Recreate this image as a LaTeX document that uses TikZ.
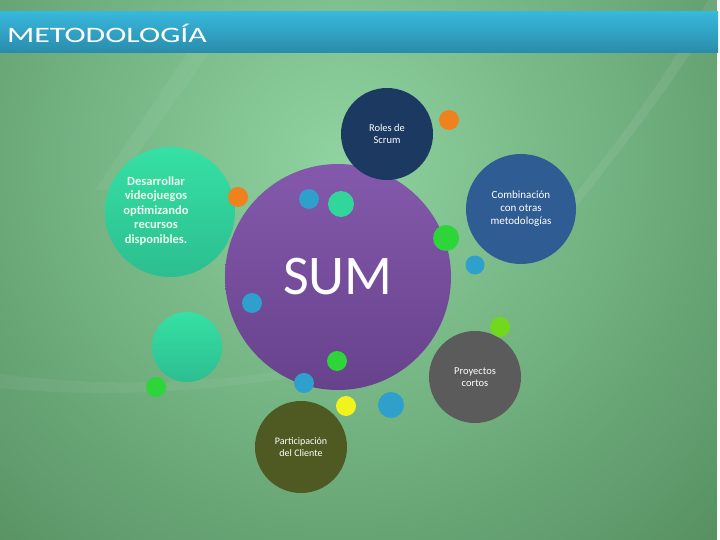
\documentclass[tikz,border=0pt]{standalone}
\usepackage{fontspec}
\setmainfont{Carlito}
\usetikzlibrary{positioning}
\definecolor{bgdark}{HTML}{3F7548}
\definecolor{bgmid}{HTML}{5E9E6C}
\definecolor{bglight}{HTML}{8FD3A0}
\definecolor{barTop}{HTML}{37B8DC}
\definecolor{barBot}{HTML}{2A8BAB}
\definecolor{sumTop}{HTML}{8459AC}
\definecolor{sumBot}{HTML}{67428C}
\definecolor{rolesBlue}{HTML}{1B3961}
\definecolor{combiBlue}{HTML}{2F5C92}
\definecolor{tealTop}{HTML}{36E0A4}
\definecolor{tealBot}{HTML}{2CBE90}
\definecolor{proyGray}{HTML}{5B5B5B}
\definecolor{partOlive}{HTML}{4E5A22}
\definecolor{dotOrange}{HTML}{F0821E}
\definecolor{dotBlue}{HTML}{2F9FCC}
\definecolor{dotGreen}{HTML}{2DD43A}
\definecolor{dotLime}{HTML}{72D81E}
\definecolor{dotYellow}{HTML}{F2F21C}
\definecolor{dotTeal}{HTML}{33D69A}
\tikzset{
  bubble/.style={circle, inner sep=0pt, minimum size=#1, text=white, align=center},
  smalldot/.style={circle, inner sep=0pt, minimum size=#1},
  bubtext/.style={font=\fontsize{10.5}{12.5}\selectfont}
}

\begin{document}
\begin{tikzpicture}[x=1pt, y=-1pt]
\useasboundingbox (0,0) rectangle (720,540);

% fondo
\begin{scope}
\clip (0,0) rectangle (717,540);
\fill[bgdark] (0,0) rectangle (720,540);
\shade[inner color=bglight, outer color=bgdark] (340,160) circle (760);
\fill[white, opacity=0.07] (708,0) .. controls (660,90) and (610,150) .. (555,220)
  -- (578,205) .. controls (628,140) and (678,80) .. (722,0) -- cycle;
\fill[white, opacity=0.05] (210,52) -- (188,52) -- (95,190) -- (112,190) -- cycle;
\fill[white, opacity=0.05] (0,374) .. controls (120,390) and (230,380) .. (300,368)
  -- (300,376) .. controls (230,388) and (120,400) .. (0,388) -- cycle;
\end{scope}
\fill[white] (717,0) rectangle (720,540);

% barra del titulo
\shade[top color=barTop, bottom color=barBot] (0,12) rectangle (718,53);
\node[anchor=west, text=white, xscale=1.45, font=\fontsize{22}{22}\selectfont] (titulo) at (2,33) {METODOLOG\'IA};

% burbujas
\node[bubble=130pt, top color=tealTop, bottom color=tealBot] (desarrollar) at (170,212) {};
\node[text=white!92!green, align=center, font=\bfseries\fontsize{12.5}{14.5}\selectfont] (desarrollarTxt) at (156,211)
  {Desarrollar\\videojuegos\\optimizando\\recursos\\disponibles.};
\node[bubble=70pt, top color=tealTop, bottom color=tealBot] (tealB) at (187,347) {};
\node[bubble=226pt, top color=sumTop, bottom color=sumBot, font=\fontsize{56}{56}\selectfont] (sum) at (338,277) {SUM};
\node[bubble=92pt, fill=rolesBlue, bubtext] (roles) at (387,134) {Roles de\\Scrum};
\node[bubble=110pt, fill=combiBlue, font=\fontsize{11}{13}\selectfont] (combi) at (521,209) {Combinaci\'on\\con otras\\metodolog\'ias};
\node[bubble=92pt, fill=proyGray, bubtext] (proy) at (475,377) {Proyectos\\cortos};
\node[bubble=92pt, fill=partOlive, font=\fontsize{10}{12}\selectfont] (part) at (301,447) {Participaci\'on\\del Cliente};

% puntos
\foreach \px/\py/\d/\c [count=\i] in {449/120/20/dotOrange, 238/197/20/dotOrange,
    309/199/20/dotBlue, 341/204/26/dotTeal, 446/238/26/dotGreen, 475/265/19/dotBlue,
    252/303/20/dotBlue, 337/361/20/dotGreen, 304/383/20/dotBlue, 346/406/20/dotYellow,
    391/405/26/dotBlue, 500/327/20/dotLime, 156/387/20/dotGreen}
  \node[smalldot=\d pt, fill=\c] (dot\i) at (\px,\py) {};

\end{tikzpicture}
\end{document}
